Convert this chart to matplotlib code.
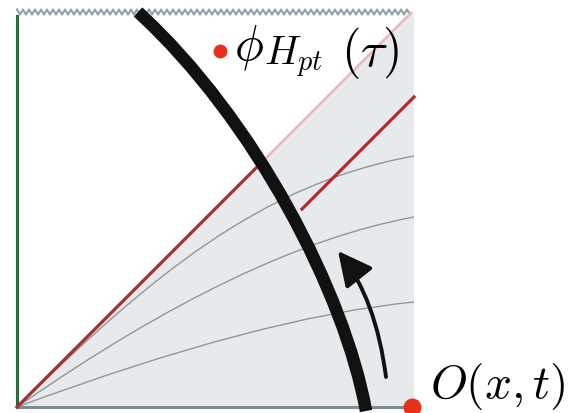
import numpy as np
import matplotlib
matplotlib.use("Agg")
import matplotlib.pyplot as plt
from matplotlib.patches import Polygon, PathPatch, FancyArrowPatch
from matplotlib.path import Path

plt.rcParams['mathtext.fontset'] = 'cm'

# Diagram frame (pixel-like coordinates of the square)
left, right, top, bottom = 17, 414, 13, 408

# Gray constant-time curves: Bezier control points (x, y)
curve_a_x = [17, 150, 260, 414]
curve_a_y = [408, 278, 185, 157]
curve_b_x = [17, 245, 414]
curve_b_y = [408, 249, 218]
curve_c_x = [17, 259, 414]
curve_c_y = [408, 318, 303]

# Brane worldline (thick black), cubic Bezier control points
brane_x = [138, 255, 345, 366]
brane_y = [13, 120, 295, 412]

# Arrow path, quadratic Bezier control points
arrow_x = [386, 376, 338]
arrow_y = [378, 300, 252]

# Red lines
red1_x = [left, 263]
red1_y = [bottom, 162]
pink_x = [263, 411]
pink_y = [162, 14]
red2_x = [302, 414]
red2_y = [210, 98]

# Points
dot_top = (220, 52)
dot_bottom = (412, 408)

fig = plt.figure(figsize=(5.72, 4.14), dpi=100)
ax = fig.add_axes([0, 0, 1, 1])
ax.set_xlim(0, 572)
ax.set_ylim(414, 0)
ax.axis('off')


def bezier_path(xs, ys):
    verts = list(zip(xs, ys))
    code = Path.CURVE3 if len(verts) == 3 else Path.CURVE4
    codes = [Path.MOVETO] + [code] * (len(verts) - 1)
    return Path(verts, codes)


# shaded region
ax.add_patch(Polygon([[left, bottom], [right, bottom], [right, top]],
                     closed=True, facecolor='#e6eaed', edgecolor='none', zorder=1))

# zigzag singularity
zx = np.arange(left, 411, 3.0)
zy = top + np.where(np.arange(len(zx)) % 2 == 0, -2.5, 2.5)
ax.plot(zx, zy, color='#8fa1a9', lw=1.5, zorder=3)

# green & bottom boundary
ax.plot([left, left], [17, bottom], color='#2b6b3e', lw=2.2, zorder=3)
ax.plot([left, right], [bottom, bottom], color='#7e8c90', lw=2.2, zorder=3)

# gray curves
for cx, cy in [(curve_a_x, curve_a_y), (curve_b_x, curve_b_y), (curve_c_x, curve_c_y)]:
    ax.add_patch(PathPatch(bezier_path(cx, cy), facecolor='none',
                           edgecolor='#8f9799', lw=1.0, zorder=2))

# red/pink lines
ax.plot(red1_x, red1_y, color='#b02a2e', lw=2.3, zorder=4)
ax.plot(pink_x, pink_y, color='#e9b9bd', lw=2.0, zorder=4)
ax.plot(red2_x, red2_y, color='#b02a2e', lw=2.3, zorder=4)

# brane
ax.add_patch(PathPatch(bezier_path(brane_x, brane_y), facecolor='none',
                       edgecolor='#111111', lw=9, zorder=5, capstyle='butt'))

# arrow
arr = FancyArrowPatch(path=bezier_path(arrow_x, arrow_y),
                      arrowstyle='-|>,head_length=1.4,head_width=0.7',
                      mutation_scale=15, color='#111111', lw=2.8, zorder=6)
ax.add_patch(arr)

# red dots
ax.plot([dot_top[0]], [dot_top[1]], 'o', color='#e6321c', ms=9, zorder=7)
ax.plot([dot_bottom[0]], [dot_bottom[1]], 'o', color='#e6321c', ms=12, zorder=7, clip_on=False)

# labels
ax.text(234, 59, r'$\phi$', fontsize=35, va='baseline', ha='left', zorder=8)
ax.text(264, 65, r'$H_{pt}$', fontsize=29, va='baseline', ha='left', zorder=8)
ax.text(341, 66, r'$(\tau)$', fontsize=36, va='baseline', ha='left', zorder=8)
ax.text(430, 398, r'$O(x,t)$', fontsize=34, va='baseline', ha='left', zorder=8)

fig.savefig('out.png', dpi=100)
